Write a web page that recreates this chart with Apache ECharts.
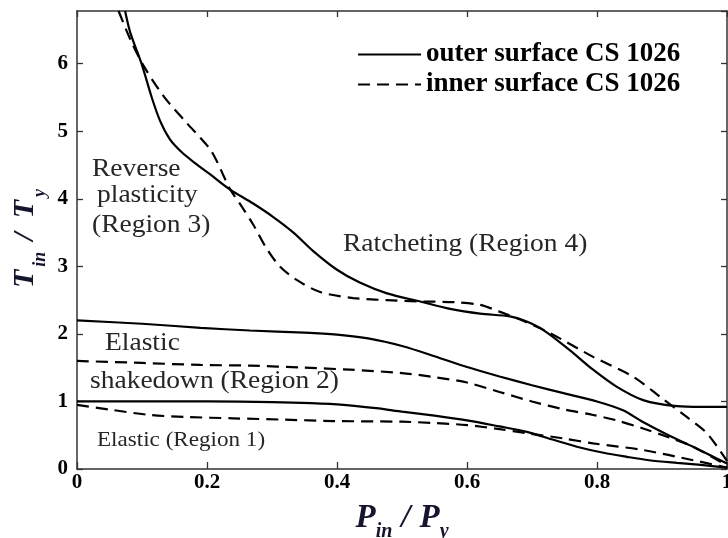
<!DOCTYPE html>
<html>
<head>
<meta charset="utf-8">
<title>Shakedown / ratcheting interaction diagram</title>
<script src="https://cdn.jsdelivr.net/npm/echarts@6/dist/echarts.min.js"></script>
<style>
  html, body { margin: 0; padding: 0; background: #ffffff; }
  #chart { width: 728px; height: 538px; }
</style>
</head>
<body>
<div id="chart"></div>
<script>
// Boundary curves, P_in/P_y (x) against T_in/T_y (y)
const outerRatchetX = [0.074, 0.082, 0.1, 0.115, 0.128, 0.143, 0.16, 0.18, 0.205, 0.235, 0.271, 0.302, 0.333, 0.363, 0.4, 0.435, 0.477, 0.528, 0.574, 0.62, 0.666, 0.69, 0.717, 0.758, 0.794, 0.83, 0.871, 0.923, 0.96, 1.0];
const outerRatchetY = [6.78, 6.46, 5.98, 5.5, 5.15, 4.88, 4.7, 4.54, 4.36, 4.14, 3.93, 3.73, 3.5, 3.23, 2.95, 2.76, 2.6, 2.48, 2.37, 2.3, 2.26, 2.19, 2.06, 1.76, 1.47, 1.22, 1.02, 0.93, 0.92, 0.92];

const innerRatchetX = [0.064, 0.082, 0.103, 0.134, 0.169, 0.19, 0.205, 0.215, 0.226, 0.235, 0.251, 0.271, 0.292, 0.312, 0.338, 0.374, 0.425, 0.477, 0.528, 0.58, 0.62, 0.65, 0.68, 0.728, 0.794, 0.855, 0.897, 0.938, 0.969, 1.0];
const innerRatchetY = [6.78, 6.36, 5.96, 5.51, 5.12, 4.9, 4.73, 4.56, 4.33, 4.15, 3.92, 3.62, 3.26, 3.0, 2.8, 2.62, 2.53, 2.5, 2.48, 2.47, 2.43, 2.33, 2.22, 2.01, 1.66, 1.37, 1.07, 0.77, 0.53, 0.12];

const outerShakedownX = [0, 0.1, 0.19, 0.266, 0.35, 0.4, 0.45, 0.5, 0.55, 0.6, 0.65, 0.7, 0.75, 0.8, 0.84, 0.87, 0.91, 0.95, 0.975, 1.0];
const outerShakedownY = [2.2, 2.15, 2.09, 2.05, 2.02, 1.99, 1.93, 1.82, 1.67, 1.51, 1.37, 1.24, 1.12, 1.0, 0.87, 0.7, 0.5, 0.32, 0.2, 0.08];

const innerShakedownX = [0, 0.1, 0.19, 0.266, 0.35, 0.42, 0.5, 0.55, 0.6, 0.65, 0.7, 0.75, 0.794, 0.83, 0.871, 0.91, 0.948, 1.0];
const innerShakedownY = [1.6, 1.57, 1.54, 1.53, 1.5, 1.47, 1.42, 1.36, 1.28, 1.14, 1.0, 0.88, 0.8, 0.72, 0.6, 0.47, 0.33, 0.05];

const outerElasticX = [0, 0.1, 0.2, 0.3, 0.36, 0.41, 0.46, 0.5, 0.55, 0.6, 0.65, 0.692, 0.73, 0.769, 0.81, 0.846, 0.88, 0.923, 0.96, 1.0];
const outerElasticY = [1.0, 1.0, 1.0, 0.99, 0.975, 0.95, 0.9, 0.85, 0.79, 0.72, 0.63, 0.55, 0.44, 0.33, 0.24, 0.18, 0.13, 0.09, 0.06, 0.02];

const innerElasticX = [0, 0.05, 0.112, 0.17, 0.24, 0.32, 0.394, 0.5, 0.55, 0.6, 0.65, 0.692, 0.75, 0.794, 0.871, 0.948, 1.0];
const innerElasticY = [0.95, 0.88, 0.8, 0.77, 0.75, 0.73, 0.71, 0.7, 0.68, 0.65, 0.59, 0.53, 0.45, 0.38, 0.28, 0.13, 0.02];

// Axis ticks
const xTicks = [0, 0.2, 0.4, 0.6, 0.8, 1];
const yTicks = [0, 1, 2, 3, 4, 5, 6];
const yTop = 6.78;

// Legend entries and region labels
const outerName = 'outer surface CS 1026';
const innerName = 'inner surface CS 1026';
const regionLabels = ['Reverse', 'plasticity', '(Region 3)', 'Ratcheting (Region 4)', 'Elastic', 'shakedown (Region 2)', 'Elastic (Region 1)'];

const pairs = (xs, ys) => xs.map((x, i) => [x, ys[i]]);

const serif = '"Liberation Serif", "Times New Roman", serif';
const ink = '#000000';
const titleInk = '#15152e';
const axisInk = '#333333';

function curve(name, xs, ys, dashed) {
  return {
    type: 'line',
    name: name,
    data: pairs(xs, ys),
    showSymbol: false,
    symbol: 'none',
    smooth: 0.3,
    clip: true,
    lineStyle: {
      color: ink,
      width: 2.2,
      type: dashed ? [12, 7] : 'solid'
    },
    itemStyle: { color: ink },
    emphasis: { disabled: true },
    z: 3
  };
}

function regionText(text, x, y, size) {
  return {
    type: 'text',
    x: x,
    y: y,
    scaleX: 1.1,
    silent: true,
    z: 5,
    style: {
      text: text,
      fontFamily: serif,
      fontSize: size,
      fill: '#262626',
      align: 'left',
      verticalAlign: 'middle'
    }
  };
}

const tickLabel = {
  color: ink,
  fontFamily: serif,
  fontWeight: 'bold',
  fontSize: 21
};

function frameAxis(extra) {
  return Object.assign({
    type: 'value',
    axisLine: { show: true, onZero: false, lineStyle: { color: axisInk, width: 1.5 } },
    axisTick: { show: true, inside: true, length: 6, lineStyle: { color: axisInk, width: 1.3 } },
    splitLine: { show: false }
  }, extra);
}

const chart = echarts.init(document.getElementById('chart'), null, { renderer: 'canvas' });

chart.setOption({
  animation: false,
  backgroundColor: '#ffffff',
  grid: { left: 77, right: 1, top: 11, bottom: 69, outerBoundsMode: 'none', containLabel: false },
  legend: {
    data: [outerName, innerName],
    orient: 'vertical',
    left: 357,
    top: 41,
    padding: 0,
    itemWidth: 63,
    itemHeight: 3,
    itemGap: 3,
    selectedMode: false,
    itemStyle: { opacity: 0 },
    textStyle: {
      color: ink,
      fontFamily: serif,
      fontWeight: 'bold',
      fontSize: 27
    }
  },
  xAxis: [
    frameAxis({
      min: xTicks[0],
      max: xTicks[xTicks.length - 1],
      interval: 0.2,
      position: 'bottom',
      name: '{b|P}{s|in}{sl|/}{b|P}{s|y}',
      nameLocation: 'middle',
      nameGap: 33,
      nameMoveOverlap: false,
      nameTextStyle: {
        rich: {
          b: { fontFamily: serif, fontWeight: 'bold', fontStyle: 'italic', fontSize: 33, lineHeight: 33, color: titleInk },
          s: { fontFamily: serif, fontWeight: 'bold', fontStyle: 'italic', fontSize: 20, lineHeight: 20, color: titleInk, padding: [26, 0, 0, 0] },
          sl: { fontFamily: serif, fontWeight: 'bold', fontStyle: 'italic', fontSize: 33, lineHeight: 33, color: titleInk, padding: [0, 9, 0, 9] }
        }
      },
      axisTick: { show: true, inside: true, length: 7, lineStyle: { color: axisInk, width: 1.3 } },
      axisLabel: Object.assign({ margin: 3, showMaxLabel: true }, tickLabel)
    }),
    frameAxis({
      min: xTicks[0],
      max: xTicks[xTicks.length - 1],
      interval: 0.2,
      position: 'top',
      axisLabel: { show: false }
    })
  ],
  yAxis: [
    frameAxis({
      min: yTicks[0],
      max: yTop,
      interval: 1,
      position: 'left',
      name: '{b|T}{s|in}{sl|/}{b|T}{s|y}',
      nameLocation: 'middle',
      nameGap: 37,
      nameMoveOverlap: false,
      nameTextStyle: {
        rich: {
          b: { fontFamily: serif, fontWeight: 'bold', fontStyle: 'italic', fontSize: 30, lineHeight: 30, color: titleInk, padding: [0, 3, 0, 3] },
          s: { fontFamily: serif, fontWeight: 'bold', fontStyle: 'italic', fontSize: 18, lineHeight: 18, color: titleInk, padding: [30, 0, 0, 0] },
          sl: { fontFamily: serif, fontWeight: 'bold', fontStyle: 'italic', fontSize: 30, lineHeight: 30, color: titleInk, padding: [0, 11, 0, 11] }
        }
      },
      axisLabel: Object.assign({ margin: 9, showMaxLabel: false, formatter: v => String(v) }, tickLabel)
    }),
    frameAxis({
      min: yTicks[0],
      max: yTop,
      interval: 1,
      position: 'right',
      axisLabel: { show: false }
    })
  ],
  series: [
    curve(outerName, outerRatchetX, outerRatchetY, false),
    curve(innerName, innerRatchetX, innerRatchetY, true),
    curve(outerName, outerShakedownX, outerShakedownY, false),
    curve(innerName, innerShakedownX, innerShakedownY, true),
    curve(outerName, outerElasticX, outerElasticY, false),
    curve(innerName, innerElasticX, innerElasticY, true)
  ],
  graphic: [
    regionText(regionLabels[0], 92, 169, 25),
    regionText(regionLabels[1], 97, 195, 25),
    regionText(regionLabels[2], 92, 225, 25),
    regionText(regionLabels[3], 343, 244, 25),
    regionText(regionLabels[4], 105, 343, 25),
    regionText(regionLabels[5], 90, 381, 25),
    regionText(regionLabels[6], 97, 440, 21)
  ]
});
</script>
</body>
</html>
